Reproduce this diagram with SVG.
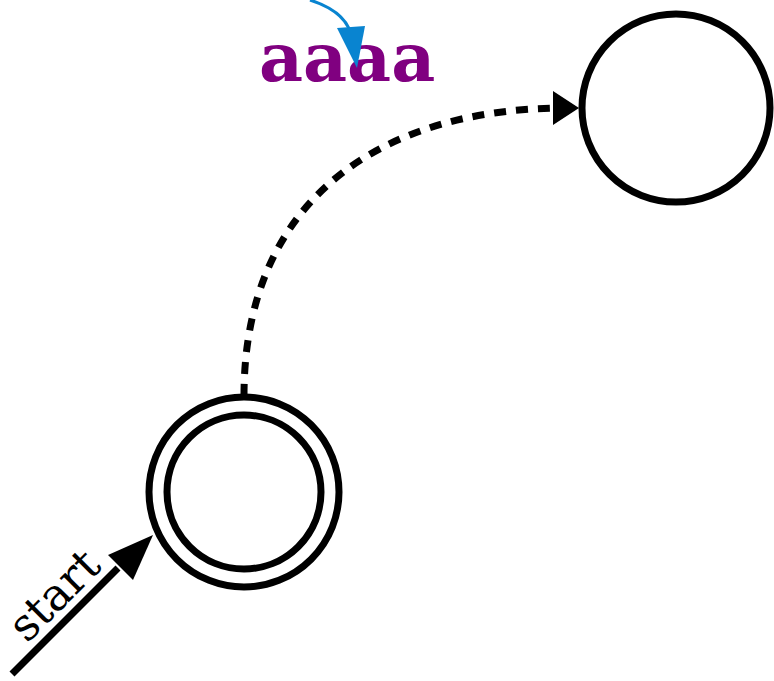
<svg xmlns="http://www.w3.org/2000/svg" width="774" height="681" viewBox="0 0 774 681">
  <style>
    .state { fill: none; stroke: #000; stroke-width: 7; }
    .edge { fill: none; stroke: #000; stroke-width: 7; }
    .dashed { stroke-dasharray: 12 10; }
    .lbl { font-family: "DejaVu Serif", serif; }
  </style>

  <rect width="774" height="681" fill="#fff"/>

  <g id="q0">
    <circle class="state" cx="244" cy="492" r="95"/>
    <circle class="state" cx="244" cy="492" r="77"/>
  </g>

  <g id="q1">
    <circle class="state" cx="676" cy="108" r="94"/>
  </g>

  <g id="start-label">
    <text class="lbl" x="0" y="0" font-size="45" transform="translate(27,644) rotate(-45)">start</text>
  </g>

  <g id="edge-label">
    <text class="lbl" x="259" y="81" font-size="68" font-weight="bold" fill="#800080">aaaa</text>
  </g>

  <g id="connectors">
    <path class="edge dashed" d="M244,396 C244,200 380,108 566,108"/>
    <path d="M553,91 L579,108 L553,125 Z" fill="#000"/>
    <line class="edge" x1="12" y1="674" x2="118" y2="568"/>
    <path d="M153,535 L108,555 L133,580 Z" fill="#000"/>
    <path d="M310,0 C335,8 350,20 352,40" fill="none" stroke="#0984d0" stroke-width="3"/>
    <path d="M337,28 L365,26 L357,68 Z" fill="#0984d0"/>
  </g>
</svg>
